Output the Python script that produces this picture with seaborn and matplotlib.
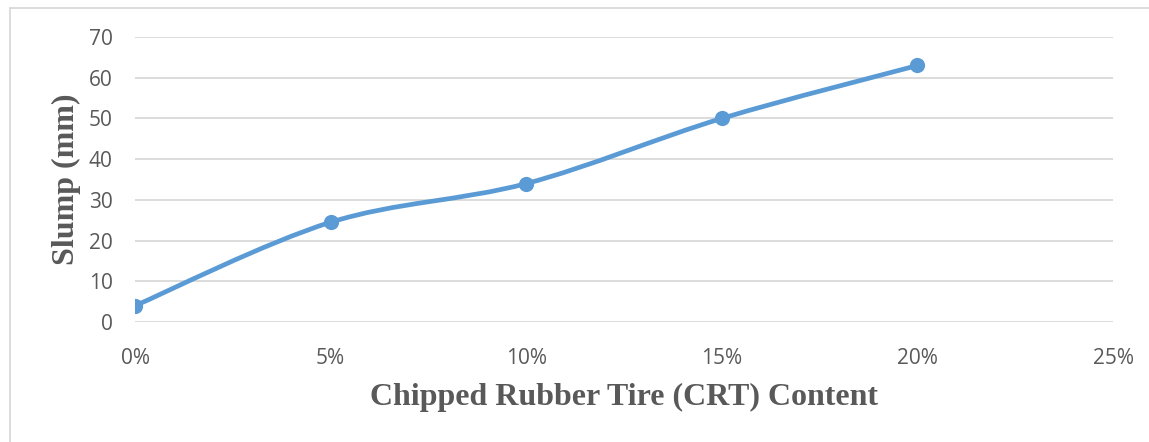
import numpy as np
import pandas as pd
import matplotlib.pyplot as plt
import seaborn as sns
from matplotlib.path import Path
from matplotlib.patches import PathPatch
from matplotlib.ticker import FuncFormatter
from matplotlib.lines import Line2D

# data
crt_content = [0.00, 0.05, 0.10, 0.15, 0.20]
slump_mm = [4, 24.5, 34, 50, 63]
x_ticks = [0.00, 0.05, 0.10, 0.15, 0.20, 0.25]
y_ticks = [0, 10, 20, 30, 40, 50, 60, 70]

df = pd.DataFrame({'crt': crt_content, 'slump': slump_mm})

sns.set_theme(style='white')
plt.rcParams['font.family'] = ['Open Sans', 'DejaVu Sans']

blue = '#5B9BD5'
grey = '#595959'

fig = plt.figure(figsize=(11.49, 4.42), dpi=100)
ax = fig.add_axes([0.1175, 0.2715, 0.8512, 0.6448])

# smoothed line like Excel: cardinal bezier through the points
pts = np.column_stack([crt_content, slump_mm])
verts = [pts[0]]
codes = [Path.MOVETO]
n = len(pts)
for i in range(n - 1):
    p0 = pts[i - 1] if i > 0 else pts[i]
    p1 = pts[i]
    p2 = pts[i + 1]
    p3 = pts[i + 2] if i + 2 < n else pts[i + 1]
    c1 = p1 + (p2 - p0) / 6
    c2 = p2 - (p3 - p1) / 6
    verts += [c1, c2, p2]
    codes += [Path.CURVE4] * 3
ax.add_patch(PathPatch(Path(verts, codes), facecolor='none', edgecolor=blue,
                       lw=3.4, capstyle='round', joinstyle='round', zorder=3))

sns.scatterplot(data=df, x='crt', y='slump', ax=ax, color=blue, s=120,
                edgecolor=blue, linewidth=0, zorder=4, legend=False)

ax.set_xlim(0, 0.25)
ax.set_ylim(0, 70)
ax.set_xticks(x_ticks)
ax.set_yticks(y_ticks)
ax.xaxis.set_major_formatter(FuncFormatter(lambda v, p: f'{v*100:.0f}%'))
ax.yaxis.grid(True, color='#d9d9d9', lw=1.3)
ax.xaxis.grid(False)
for s in ax.spines.values():
    s.set_visible(False)
ax.tick_params(axis='both', length=0, labelsize=15, colors=grey)
ax.tick_params(axis='x', pad=19)
ax.tick_params(axis='y', pad=16)

ax.set_xlabel('Chipped Rubber Tire (CRT) Content', fontsize=23, fontweight='bold',
              family='Liberation Serif', color=grey, labelpad=10)
ax.set_ylabel('Slump (mm)', fontsize=23, fontweight='bold',
              family='Liberation Serif', color=grey, labelpad=6)

# chart area border (top and left visible)
fig.add_artist(Line2D([10/1149, 1.0], [1 - 8/442, 1 - 8/442], color='#d9d9d9', lw=1.3))
fig.add_artist(Line2D([10/1149, 10/1149], [0, 1 - 8/442], color='#d9d9d9', lw=1.3))

fig.savefig('out.png', dpi=100)
